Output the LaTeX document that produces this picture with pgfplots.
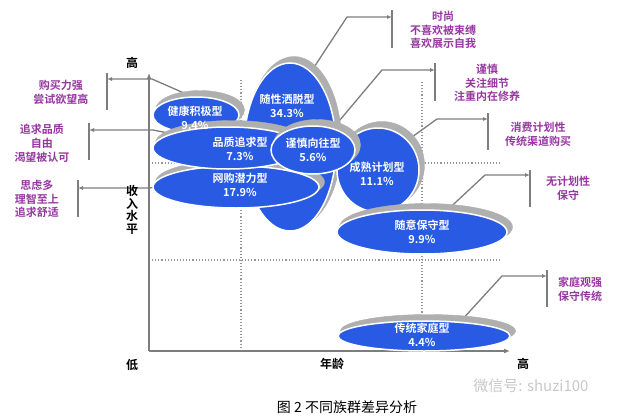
\documentclass[border=0pt]{standalone}
\usepackage{pgfplots}
\pgfplotsset{compat=1.18}
\usepackage{pgfplotstable}
\usepackage{fontspec}
\setmainfont{Liberation Sans}
\newfontfamily\cjk{Noto Sans CJK SC}[BoldFont={Noto Sans CJK SC Bold}]
\usetikzlibrary{arrows.meta}
\definecolor{myblue}{RGB}{40,90,228}
\definecolor{mypurple}{RGB}{150,55,160}
\definecolor{linegray}{RGB}{125,125,125}
\definecolor{shadowgray}{RGB}{175,175,175}
\definecolor{dotgray}{RGB}{150,150,150}
\definecolor{wmgray}{RGB}{200,200,200}
\newcommand\nl{\\}

% ellipses: centre and radii (pixel units)
\pgfplotstableread{
cx  cy  rx  ry
290 147 46  84
378 170 41  42
196 115 43  18
236 187 83  21
228 148 75  21
313 150 42  24
422 232 85  22
424 336 86  15
}\ellipses

% labels inside ellipses
\pgfplotstableread{
lx  ly  text
287 106 随性洒脱型\nl34.3\%
377 174 成熟计划型\nl11.1\%
195 118 健康积极型\nl9.4\%
240 185 网购潜力型\nl17.9\%
240 149 品质追求型\nl7.3\%
313 150 谨慎向往型\nl5.6\%
422 232 随意保守型\nl9.9\%
422 335 传统家庭型\nl4.4\%
}\labels

\begin{document}
\begin{tikzpicture}
\begin{axis}[
  x=1pt, y=1pt, scale only axis,
  xmin=0, xmax=625, ymin=0, ymax=418, y dir=reverse,
  axis line style={draw=none}, ticks=none, clip=false,
]
% dotted grid
\addplot[dotgray, line width=1.1pt, dash pattern=on 1.1pt off 2pt] coordinates {(241,80) (241,351)};
\addplot[dotgray, line width=1.1pt, dash pattern=on 1.1pt off 2pt] coordinates {(422,82) (422,351)};
\addplot[dotgray, line width=1.1pt, dash pattern=on 1.1pt off 2pt] coordinates {(149,260) (500,260)};
\addplot[dotgray, line width=1.1pt, dash pattern=on 1.1pt off 2pt] coordinates {(149,163) (500,163)};
% axes
\addplot[linegray, line width=1.6pt, -{Latex[length=6pt,width=5pt]}] coordinates {(149,351) (149,73)};
\addplot[linegray, line width=1.6pt, -{Latex[length=6pt,width=5pt]}] coordinates {(149,351) (510,351)};

% ellipses
\addplot[scatter, only marks, mark=*, mark size=0pt, mark options={draw=none,fill=none},
  visualization depends on={\thisrow{rx}\as\rx},
  visualization depends on={\thisrow{ry}\as\ry},
  scatter/@pre marker code/.code={
    \fill[shadowgray] (4pt,5pt) ellipse [x radius=\rx pt+1.5pt, y radius=\ry pt+1.5pt];
    \filldraw[fill=myblue, draw=white, line width=1.5pt] (0,0) ellipse [x radius=\rx pt, y radius=\ry pt];
  },
  scatter/@post marker code/.code={}
] table[x=cx, y=cy] {\ellipses};

% ellipse labels
\addplot[only marks, mark=*, mark size=0pt, mark options={draw=none,fill=none},
  point meta=explicit symbolic,
  nodes near coords,
  nodes near coords align=center,
  every node near coord/.append style={anchor=center, align=center, inner sep=0pt, text=white,
    font=\cjk\bfseries\fontsize{11}{13.5}\selectfont},
] table[x=lx, y=ly, meta=text] {\labels};

% connector lines, left
\addplot[linegray, line width=1.3pt, -{Latex[length=5pt,width=4pt]}] coordinates {(193,97) (152,79) (107,79)};
\addplot[linegray, line width=1.3pt, -{Latex[length=5pt,width=4pt]}] coordinates {(213,142) (153,130) (89,130)};
\addplot[linegray, line width=1.3pt, -{Latex[length=5pt,width=4pt]}] coordinates {(205,179) (150,188) (78,188)};
% connector lines, right
\addplot[linegray, line width=1.3pt, -{Latex[length=5pt,width=4pt]}] coordinates {(303,84) (347,17) (392,17)};
\addplot[linegray, line width=1.3pt, -{Latex[length=5pt,width=4pt]}] coordinates {(329,133) (382,70) (435,70)};
\addplot[linegray, line width=1.3pt, -{Latex[length=5pt,width=4pt]}] coordinates {(387,155) (437,119) (488,119)};
\addplot[linegray, line width=1.3pt, -{Latex[length=5pt,width=4pt]}] coordinates {(442,215) (485,175) (530,175)};
\addplot[linegray, line width=1.3pt, -{Latex[length=5pt,width=4pt]}] coordinates {(460,322) (502,276) (547,276)};
% bars
\addplot[linegray, line width=1.6pt] coordinates {(107,73) (107,110)};
\addplot[linegray, line width=1.6pt] coordinates {(89,123) (89,160)};
\addplot[linegray, line width=1.6pt] coordinates {(78,180) (78,217)};
\addplot[linegray, line width=1.6pt] coordinates {(392,10) (392,48)};
\addplot[linegray, line width=1.6pt] coordinates {(435,63) (435,101)};
\addplot[linegray, line width=1.6pt] coordinates {(488,113) (488,150)};
\addplot[linegray, line width=1.6pt] coordinates {(530,170) (530,207)};
\addplot[linegray, line width=1.6pt] coordinates {(547,270) (547,307)};

% annotation texts
\tikzset{ann/.style={text=mypurple, align=center, inner sep=0pt, font=\cjk\bfseries\fontsize{11}{13.8}\selectfont}}
\node[ann] at (axis cs:61,92) {购买力强\\尝试欲望高};
\node[ann] at (axis cs:42,143) {追求品质\\自由\\渴望被认可};
\node[ann] at (axis cs:37,199) {思虑多\\理智至上\\追求舒适};
\node[ann] at (axis cs:443,30) {时尚\\不喜欢被束缚\\喜欢展示自我};
\node[ann] at (axis cs:487,83) {谨慎\\关注细节\\注重内在修养};
\node[ann] at (axis cs:538,134) {消费计划性\\传统渠道购买};
\node[ann] at (axis cs:568,188) {无计划性\\保守};
\node[ann] at (axis cs:580,289) {家庭观强\\保守传统};

% axis labels
\tikzset{axl/.style={text=black, align=center, inner sep=0pt, font=\cjk\bfseries\fontsize{12}{12.5}\selectfont}}
\node[axl] at (axis cs:132,63) {高};
\node[axl] at (axis cs:132,365) {低};
\node[axl] at (axis cs:332,364) {年龄};
\node[axl] at (axis cs:523,364) {高};
\node[axl] at (axis cs:132,210) {收\\入\\水\\平};

% caption and watermark
\node[inner sep=0pt, font=\cjk\fontsize{14}{16}\selectfont] at (axis cs:347,407) {图 2 不同族群差异分析};
\node[inner sep=0pt, text=wmgray, font=\cjk\fontsize{15}{17}\selectfont] at (axis cs:531,386) {微信号: shuzi100};
\end{axis}
\end{tikzpicture}
\end{document}
